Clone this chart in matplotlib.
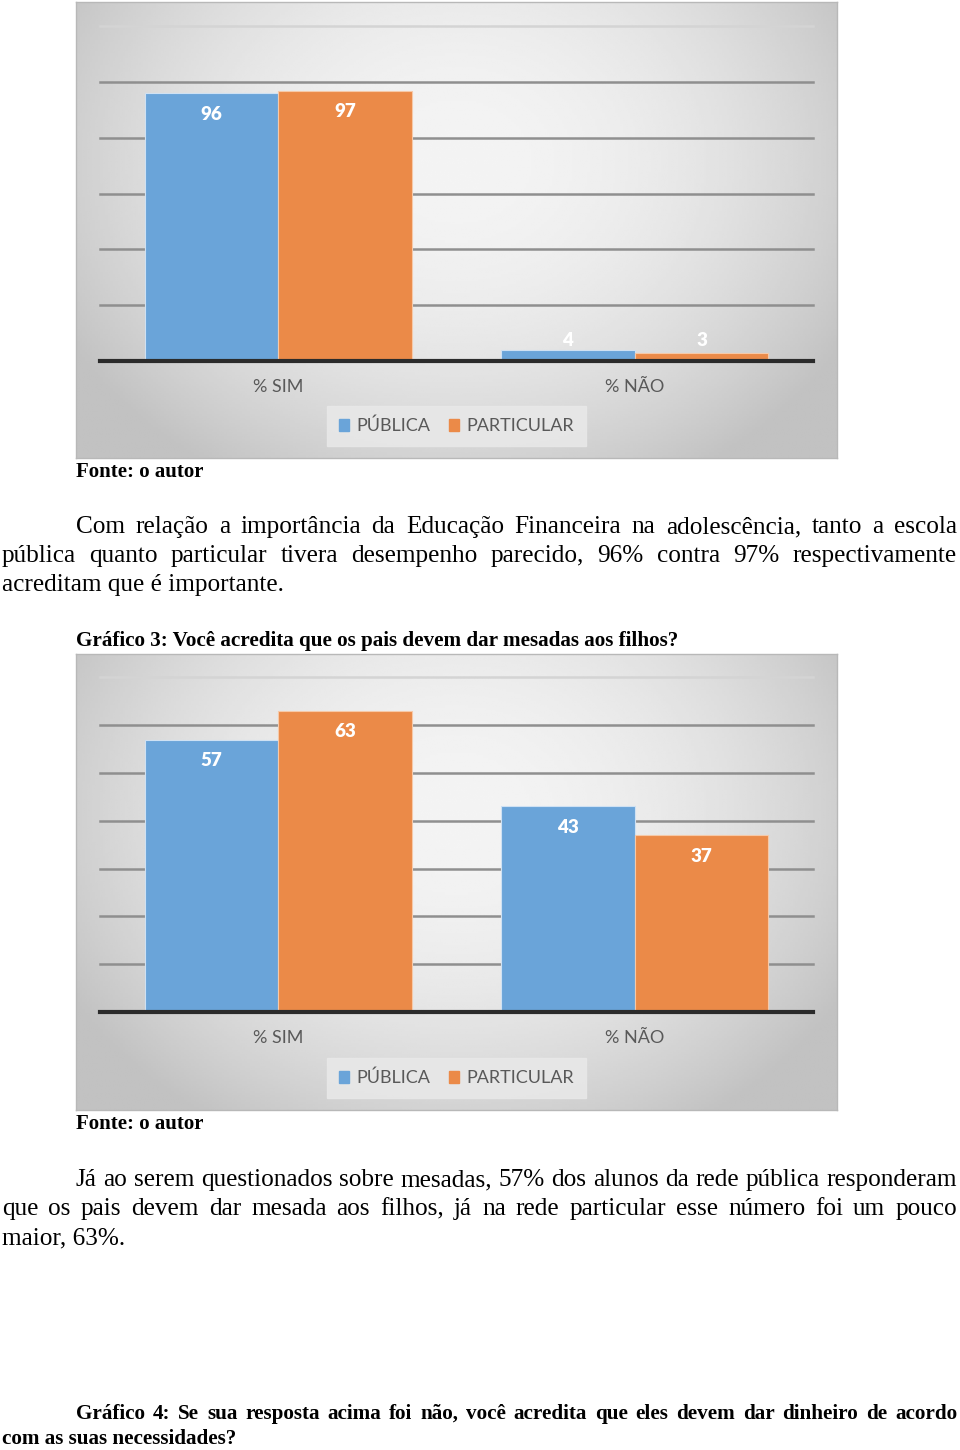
import numpy as np
import matplotlib
matplotlib.use("Agg")
import matplotlib.pyplot as plt
from matplotlib.patches import Patch

# dados dos gráficos
categorias = ["% SIM", "% NÃO"]
series = ["PÚBLICA", "PARTICULAR"]
g2_publica = [96, 4]
g2_particular = [97, 3]
g3_publica = [57, 43]
g3_particular = [63, 37]
g2_ticks = [20, 40, 60, 80, 100, 120]
g3_ticks = [10, 20, 30, 40, 50, 60, 70]

# textos da página
par1 = ["Com relação a importância da Educação Financeira na adolescência, tanto a escola",
        "pública quanto particular tivera desempenho parecido, 96% contra 97% respectivamente",
        "acreditam que é importante."]
par2 = ["Já ao serem questionados sobre mesadas, 57% dos alunos da rede pública responderam",
        "que os pais devem dar mesada aos filhos, já na rede particular esse número foi um pouco",
        "maior, 63%."]
legenda3 = "Gráfico 3: Você acredita que os pais devem dar mesadas aos filhos?"
legenda4 = ["Gráfico 4: Se sua resposta acima foi não, você acredita que eles devem dar dinheiro de acordo",
            "com as suas necessidades?"]
fonte = "Fonte: o autor"

AZUL = "#6aa4d9"
LARANJA = "#eb8a48"
CINZA_TXT = "#595959"
CHART_FONT = ["Lato", "DejaVu Sans"]
SERIF = ["Liberation Serif", "DejaVu Serif"]

W, H = 960, 1450
fig = plt.figure(figsize=(W / 100, H / 100), dpi=100)
fig.patch.set_facecolor("white")


def px_box(x0, y0, x1, y1):
    # caixa em pixels (origem no topo) -> fração da figura
    return [x0 / W, 1 - y1 / H, (x1 - x0) / W, (y1 - y0) / H]


def fundo(x0, y0, x1, y1):
    bg = fig.add_axes(px_box(x0, y0, x1, y1))
    yy, xx = np.mgrid[0:1:200j, 0:1:300j]
    r = np.sqrt(((xx - 0.5) / 0.55) ** 2 + ((yy - 0.35) / 0.75) ** 2)
    img = np.clip(0.955 - 0.17 * r ** 2, 0.76, 0.96)
    bg.imshow(img, cmap="gray", vmin=0, vmax=1, aspect="auto",
              extent=[0, 1, 1, 0], interpolation="bilinear")
    bg.set_xlim(0, 1)
    bg.set_ylim(1, 0)
    bg.set_xticks([])
    bg.set_yticks([])
    for s in bg.spines.values():
        s.set_color("#b8b8b8")
        s.set_linewidth(1)
    return bg


def grafico(box, eixo_top, eixo_y, ymax, ticks, pub, part, leg_y):
    fundo(*box)
    ax = fig.add_axes(px_box(100, eixo_top, 813, eixo_y))
    ax.patch.set_alpha(0)
    x = np.arange(len(categorias))
    w = 0.375
    b1 = ax.bar(x - w / 2, pub, w, color=AZUL, edgecolor="#cfe1f3", linewidth=0.8, zorder=3)
    b2 = ax.bar(x + w / 2, part, w, color=LARANJA, edgecolor="#f6c9a8", linewidth=0.8, zorder=3)
    ax.set_xlim(-0.5, len(categorias) - 0.5)
    ax.set_ylim(0, ymax)
    for t in ticks:
        cor = "#d4d4d4" if t == ticks[-1] else "#8f8f8f"
        ax.axhline(t, color=cor, lw=1.8, zorder=1, clip_on=False)
    ax.axhline(0, color="#2b2b2b", lw=3, zorder=4, clip_on=False)
    ax.set_yticks([])
    ax.set_xticks(x)
    ax.set_xticklabels(categorias, fontsize=13, color=CINZA_TXT, family=CHART_FONT)
    ax.tick_params(axis="x", length=0, pad=13)
    for s in ax.spines.values():
        s.set_visible(False)
    ppu = (eixo_y - eixo_top) / ymax
    for barras in (b1, b2):
        for b in barras:
            v = b.get_height()
            cx = b.get_x() + b.get_width() / 2
            if v * ppu > 41:
                xy, off = (cx, v), (0, -21)
            else:
                xy, off = (cx, 0), (0, 20)
            ax.annotate(f"{v:g}", xy, xytext=off, textcoords="offset pixels",
                        ha="center", va="center", color="white", fontsize=13.5,
                        fontweight="heavy", family=CHART_FONT, zorder=5)
    handles = [Patch(color=AZUL), Patch(color=LARANJA)]
    leg = fig.legend(handles, series, loc="center", ncol=2,
                     bbox_to_anchor=(456.5 / W, 1 - leg_y / H),
                     frameon=True, fancybox=False, facecolor="#e8e8e8", edgecolor="#e8e8e8",
                     handlelength=0.6, handleheight=0.6, handletextpad=0.4, columnspacing=1.0,
                     borderpad=0.65, prop={"family": CHART_FONT, "size": 13})
    for t in leg.get_texts():
        t.set_color(CINZA_TXT)
    leg.get_frame().set_alpha(0.9)
    return ax


grafico((76, 2, 837, 458), 25, 361, 120.5, g2_ticks, g2_publica, g2_particular, 426)
grafico((76, 654, 837, 1110), 676, 1012, 70.3, g3_ticks, g3_publica, g3_particular, 1078)

renderer = fig.canvas.get_renderer()


def linha(txt, x0, y, x1=None, size=18.2, bold=False):
    peso = "bold" if bold else "normal"
    if x1 is None:
        fig.text(x0 / W, 1 - y / H, txt, ha="left", va="center", fontsize=size,
                 fontweight=peso, family=SERIF)
        return
    palavras = txt.split(" ")
    objs = [fig.text(0, 1 - y / H, p, ha="left", va="center", fontsize=size,
                     fontweight=peso, family=SERIF) for p in palavras]
    larg = [o.get_window_extent(renderer).width for o in objs]
    espaco = (x1 - x0 - sum(larg)) / (len(palavras) - 1)
    pos = x0
    for o, l in zip(objs, larg):
        o.set_x(pos / W)
        pos += l + espaco


linha(fonte, 76, 472, size=15, bold=True)
linha(par1[0], 76, 527, 957)
linha(par1[1], 2, 556, 957)
linha(par1[2], 2, 585)
linha(legenda3, 76, 641, size=15.2, bold=True)
linha(fonte, 76, 1124, size=15, bold=True)
linha(par2[0], 76, 1180, 957)
linha(par2[1], 2, 1209, 957)
linha(par2[2], 2, 1238)
linha(legenda4[0], 76, 1414, 957, size=15.2, bold=True)
linha(legenda4[1], 2, 1439, size=15.2, bold=True)

fig.savefig("out.png", dpi=100)
